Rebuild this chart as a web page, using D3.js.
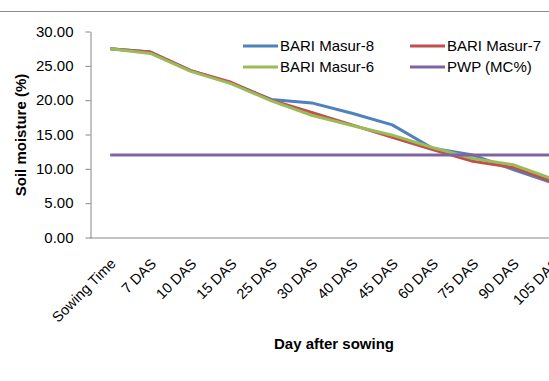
<!DOCTYPE html>
<html><head><meta charset="utf-8">
<script src="https://cdn.jsdelivr.net/npm/d3@7"></script>
<style>body{margin:0;background:#fff}svg{display:block}text{font-family:"Liberation Sans",Arial,sans-serif;fill:#000}</style>
</head><body><svg id="c" width="549" height="381"></svg>
<script>
const categories = ["Sowing Time","7 DAS","10 DAS","15 DAS","25 DAS","30 DAS","40 DAS","45 DAS","60 DAS","75 DAS","90 DAS","105 DAS"];
const masur8 = [27.5,27.0,24.3,22.5,20.1,19.6,18.1,16.4,13.0,12.0,9.9,7.9];
const masur7 = [27.5,27.0,24.3,22.6,20.0,18.2,16.4,14.6,12.8,11.1,10.2,8.1];
const masur6 = [27.5,26.8,24.2,22.4,19.9,17.8,16.3,14.9,13.1,11.5,10.6,8.5];
const pwp = [12,12,12,12,12,12,12,12,12,12,12,12];
const yTicks = [0,5,10,15,20,25,30];
const series = [
  {name:"BARI Masur-8", values:masur8, color:"#4F81BD"},
  {name:"BARI Masur-7", values:masur7, color:"#C0504D"},
  {name:"BARI Masur-6", values:masur6, color:"#9BBB59"},
  {name:"PWP (MC%)", values:pwp, color:"#8064A2"}
];
const svg = d3.select("#c");
svg.append("line").attr("x1",0).attr("x2",549).attr("y1",11.5).attr("y2",11.5).attr("stroke","#8c8c8c").attr("stroke-width",1);
const x0 = 90, bw = 40.3;
const x = d3.scaleBand().domain(categories).range([x0, x0+bw*categories.length]);
const y = d3.scaleLinear().domain([0,30]).range([237.5,31.5]);
const cx = c => x(c)+x.bandwidth()/2;
// y axis
const ya = svg.append("g").attr("transform",`translate(${x0+0.5},0)`)
  .call(d3.axisLeft(y).tickValues(yTicks).tickSize(5).tickSizeOuter(0).tickFormat(d3.format(".2f")));
ya.select(".domain").attr("stroke","#868686");
ya.selectAll(".tick line").attr("stroke","#868686");
ya.selectAll("text").attr("font-size","15px").attr("x",-17).style("font-family","Liberation Sans, Arial, sans-serif");
// x axis
svg.append("line").attr("x1",x0).attr("x2",560).attr("y1",238).attr("y2",238).attr("stroke","#868686");
svg.append("g").selectAll("text").data(categories).join("text")
  .attr("transform",d=>`translate(${cx(d)+3},${261}) rotate(-45)`)
  .attr("text-anchor","end").attr("font-size","14.5px").attr("dy","0.35em").text(d=>d);
// lines
const line = d3.line().x((d,i)=>cx(categories[i])).y(d=>y(d));
series.forEach(s=>{
  svg.append("path").datum(s.values).attr("d",line).attr("fill","none")
    .attr("stroke",s.color).attr("stroke-width",3).attr("stroke-linejoin","round");
});
// legend
const leg = [[243,46],[410,46],[243,67],[410,67]];
series.forEach((s,i)=>{
  const [lx,ly]=leg[i];
  svg.append("line").attr("x1",lx).attr("x2",lx+35).attr("y1",ly).attr("y2",ly).attr("stroke",s.color).attr("stroke-width",3);
  svg.append("text").attr("x",lx+37).attr("y",ly).attr("dy","0.35em").attr("font-size","15px").text(s.name);
});
// titles
svg.append("text").attr("transform","translate(26,135) rotate(-90)").attr("text-anchor","middle")
  .attr("font-size","15px").attr("font-weight","bold").text("Soil moisture (%)");
svg.append("text").attr("x",334).attr("y",349).attr("text-anchor","middle")
  .attr("font-size","15px").attr("font-weight","bold").text("Day after sowing");
</script></body></html>
